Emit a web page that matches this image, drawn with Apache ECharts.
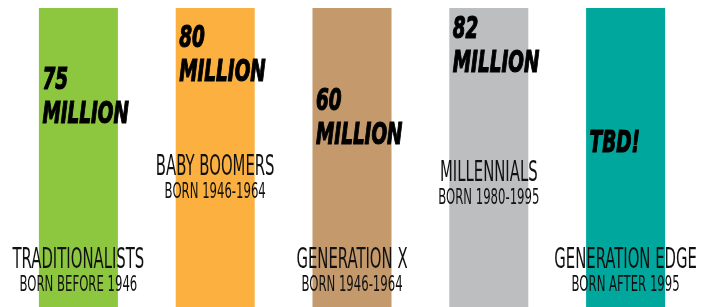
<!DOCTYPE html>
<html>
<head>
<meta charset="utf-8">
<script src="https://cdn.jsdelivr.net/npm/echarts@6/dist/echarts.min.js"></script>
<style>
  html, body {margin: 0; padding: 0; background: #fff;}
  #chart {width: 707px; height: 307px;}
</style>
</head>
<body>
<div id="chart"></div>
<script>
// generations, top to bottom of the legend-less infographic
const generations = ['TRADITIONALISTS', 'BABY BOOMERS', 'GENERATION X', 'MILLENNIALS', 'GENERATION EDGE']
const born = ['BORN BEFORE 1946', 'BORN 1946-1964', 'BORN 1946-1964', 'BORN 1980-1995', 'BORN AFTER 1995']
const population = [75, 80, 60, 82, null] // millions, null = TBD
const barLevel = [100, 100, 100, 100, 100] // every column is drawn full height
const valueLabelAt = [81.3, 95.3, 74.3, 98.3, 60.3] // where the big number sits, in axis units
const nameLabelAt = [20, 51, 20, 49, 20] // where the generation name sits, in axis units
const colors = ['#8dc63f', '#fbb040', '#c49a6c', '#bcbec0', '#00a79d']

const font = "'Liberation Sans Narrow', 'DejaVu Sans Condensed', sans-serif"

const chart = echarts.init(document.getElementById('chart'), null, {renderer: 'canvas'})

const valueText = v => (v == null ? 'TBD!' : `${v}\nMILLION`)

const option = {
  animation: false,
  grid: {left: 10, right: 13, top: 8, bottom: 0},
  xAxis: {type: 'category', data: generations, show: false},
  yAxis: {type: 'value', min: 0, max: 100, show: false},
  series: [
    {
      type: 'bar',
      barWidth: 79,
      silent: true,
      z: 1,
      data: barLevel.map((v, i) => ({value: v, itemStyle: {color: colors[i]}})),
    },
    {
      // big italic numbers
      type: 'custom',
      clip: false,
      silent: true,
      z: 10,
      data: valueLabelAt.map((v, i) => [i, v]),
      renderItem(params, api) {
        const i = api.value(0)
        const p = api.coord([i, api.value(1)])
        return {
          type: 'text',
          x: p[0] - 36,
          y: p[1],
          scaleX: 0.66,
          style: {
            text: valueText(population[i]),
            fontFamily: font,
            fontWeight: 'bold',
            fontStyle: 'italic',
            fontSize: 31,
            lineHeight: 34,
            fill: '#000',
            stroke: '#000',
            lineWidth: 1.2,
            align: 'left',
            verticalAlign: 'top',
          },
        }
      },
    },
    {
      // generation names
      type: 'custom',
      clip: false,
      silent: true,
      z: 10,
      data: nameLabelAt.map((v, i) => [i, v]),
      renderItem(params, api) {
        const i = api.value(0)
        const p = api.coord([i, api.value(1)])
        return {
          type: 'text',
          x: p[0],
          y: p[1],
          scaleX: 0.59,
          style: {
            text: `{a|${generations[i]}}\n{b|${born[i]}}`,
            fontFamily: font,
            fill: '#111',
            align: 'center',
            verticalAlign: 'top',
            rich: {
              a: {fontFamily: font, fontSize: 28, lineHeight: 27, fill: '#111'},
              b: {fontFamily: font, fontSize: 22, lineHeight: 22, fill: '#111'},
            },
          },
        }
      },
    },
  ],
}

chart.setOption(option)
</script>
</body>
</html>
